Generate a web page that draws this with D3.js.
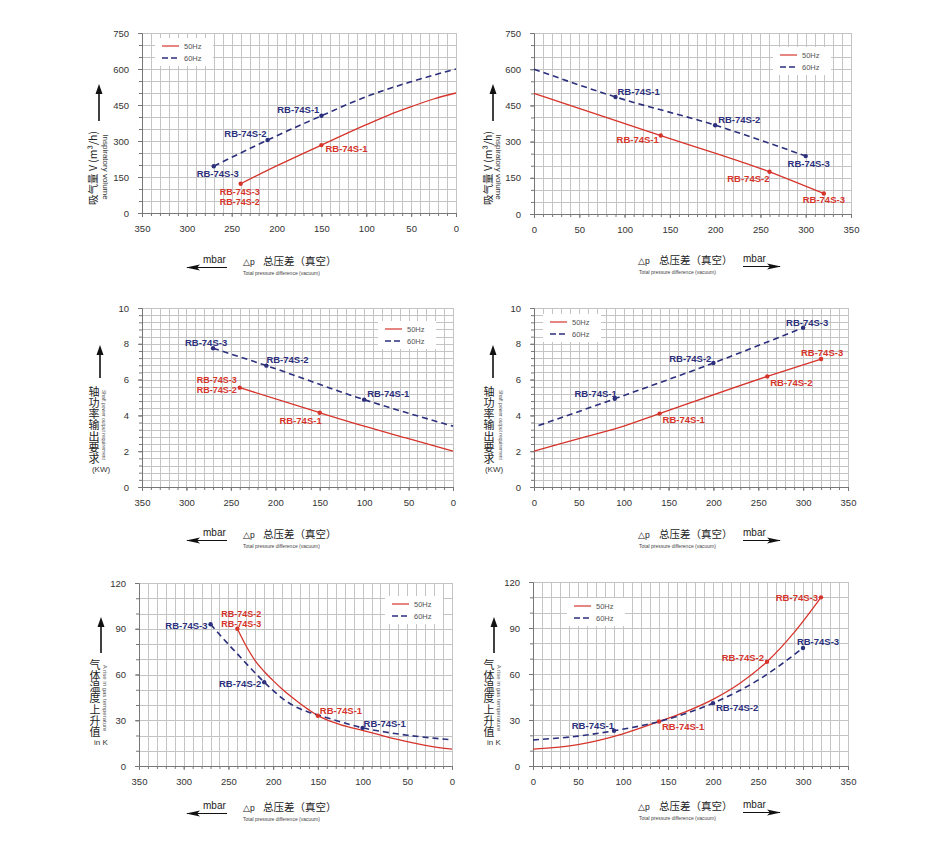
<!DOCTYPE html>
<html><head><meta charset="utf-8">
<script src="https://cdn.jsdelivr.net/npm/d3@7"></script>
<style>body{margin:0;background:#fff}svg{display:block}</style>
</head><body>
<svg id="c" width="928" height="847"></svg>
<script>
// ---------------- DATA ----------------
const xTickVals = [0, 50, 100, 150, 200, 250, 300, 350];
const volTicks = [0, 150, 300, 450, 600, 750];
const powTicks = [0, 2, 4, 6, 8, 10];
const tempTicks = [0, 30, 60, 90, 120];
const seriesNames = ["50Hz", "60Hz"];

// Panel 1: inspiratory volume (pressure axis reversed)
const vol1Red50 = [[240,122],[200,196],[150,283],[100,368],[75,408],[50,443],[25,475],[0,500]];
const vol1Blue60 = [[270,195],[210,304],[150,405],[100,485],[50,547],[0,600]];
const vol1RedModels = [{m:["RB-74S-3","RB-74S-2"],dp:240,v:122},{m:["RB-74S-1"],dp:150,v:283}];
const vol1BlueModels = [{m:["RB-74S-3"],dp:270,v:195},{m:["RB-74S-2"],dp:210,v:304},{m:["RB-74S-1"],dp:150,v:405}];

// Panel 2: inspiratory volume (pressure axis normal)
const vol2Red50 = [[0,500],[140,325],[260,175],[320,85]];
const vol2Blue60 = [[0,600],[90,485],[200,368],[300,240]];
const vol2RedModels = [{m:["RB-74S-1"],dp:140,v:325},{m:["RB-74S-2"],dp:260,v:175},{m:["RB-74S-3"],dp:320,v:85}];
const vol2BlueModels = [{m:["RB-74S-1"],dp:90,v:485},{m:["RB-74S-2"],dp:200,v:368},{m:["RB-74S-3"],dp:300,v:240}];

// Panel 3: shaft power (reversed)
const pow3Red50 = [[240,5.55],[150,4.15],[100,3.4],[50,2.7],[0,2.0]];
const pow3Blue60 = [[270,7.75],[210,6.78],[100,4.88],[0,3.4]];
const pow3RedModels = [{m:["RB-74S-3","RB-74S-2"],dp:240,v:5.55},{m:["RB-74S-1"],dp:150,v:4.15}];
const pow3BlueModels = [{m:["RB-74S-3"],dp:270,v:7.75},{m:["RB-74S-2"],dp:210,v:6.78},{m:["RB-74S-1"],dp:100,v:4.88}];

// Panel 4: shaft power (normal)
const pow4Red50 = [[0,2.0],[50,2.7],[100,3.4],[140,4.1],[260,6.18],[320,7.15]];
const pow4Blue60 = [[5,3.43],[90,4.93],[200,6.93],[300,8.9]];
const pow4RedModels = [{m:["RB-74S-1"],dp:140,v:4.1},{m:["RB-74S-2"],dp:260,v:6.18},{m:["RB-74S-3"],dp:320,v:7.15}];
const pow4BlueModels = [{m:["RB-74S-1"],dp:90,v:4.93},{m:["RB-74S-2"],dp:200,v:6.93},{m:["RB-74S-3"],dp:300,v:8.9}];

// Panel 5: gas temperature rise (reversed)
const tmp5Red50 = [[240,90],[230,78.5],[220,69],[210,62],[200,56],[190,50.5],[180,45.5],[170,41],[160,36.8],[150,33],[140,30.3],[125,27.2],[100,23.3],[75,19.5],[50,16],[25,13],[0,11]];
const tmp5Blue60 = [[270,93],[255,83],[240,73.5],[225,64],[210,55],[200,49.5],[190,44.5],[180,40.5],[170,37.5],[160,35.3],[150,33.5],[125,29],[100,25],[75,22.3],[50,20.2],[25,18.5],[0,17.2]];
const tmp5RedModels = [{m:["RB-74S-2","RB-74S-3"],dp:240,v:90},{m:["RB-74S-1"],dp:150,v:33}];
const tmp5BlueModels = [{m:["RB-74S-3"],dp:270,v:93},{m:["RB-74S-2"],dp:210,v:55},{m:["RB-74S-1"],dp:100,v:25}];

// Panel 6: gas temperature rise (normal)
const tmp6Red50 = [[0,11],[50,14],[100,21],[140,29],[170,35.5],[200,43.5],[230,54],[260,68],[290,87],[320,110]];
const tmp6Blue60 = [[0,17],[50,19.5],[90,23],[140,29],[200,41],[250,56],[300,77]];
const tmp6RedModels = [{m:["RB-74S-1"],dp:140,v:29},{m:["RB-74S-2"],dp:260,v:68},{m:["RB-74S-3"],dp:320,v:110}];
const tmp6BlueModels = [{m:["RB-74S-1"],dp:90,v:23},{m:["RB-74S-2"],dp:200,v:41},{m:["RB-74S-3"],dp:300,v:77}];

// ---------------- STYLE / LAYOUT ----------------
const RED = "#d6342b", BLUE = "#2b2f7c";
const FONT = "'Liberation Sans', Arial, sans-serif";
const CJK = "'Noto Sans CJK SC', 'Noto Sans CJK JP', sans-serif";
const svg = d3.select("#c");

const panels = [
  {l:142,r:456,t:33,b:213,rev:true,yMax:750,ticks:volTicks,grid:50,red:vol1Red50,blue:vol1Blue60,rm:vol1RedModels,bm:vol1BlueModels,
   rl:[{a:"middle",dx:-1,dy:11},{a:"start",dx:4,dy:7}],
   bl:[{a:"middle",dx:4,dy:11},{a:"end",dx:-1,dy:-3},{a:"end",dx:-2,dy:-3}],
   leg:[162,46],ylab:"vol",yx:93,ysx:106,arrowX:99,arrowT:84,arrowB:121,col:"L",by:265},
  {l:534,r:851,t:33,b:214,rev:false,yMax:750,ticks:volTicks,grid:50,red:vol2Red50,blue:vol2Blue60,rm:vol2RedModels,bm:vol2BlueModels,
   rl:[{a:"end",dx:-2,dy:7},{a:"end",dx:0,dy:10},{a:"middle",dx:0,dy:10}],
   bl:[{a:"start",dx:2,dy:-2},{a:"start",dx:3,dy:-2},{a:"middle",dx:3,dy:11}],
   leg:[780,55],ylab:"vol",yx:488,ysx:499,arrowX:493,arrowT:84,arrowB:121,col:"R",by:264},
  {l:142,r:453,t:308,b:487,rev:true,yMax:10,ticks:powTicks,grid:0.4,red:pow3Red50,blue:pow3Blue60,rm:pow3RedModels,bm:pow3BlueModels,
   rl:[{a:"end",dx:-3,dy:-5},{a:"end",dx:2,dy:11}],
   bl:[{a:"middle",dx:-7,dy:-2},{a:"start",dx:0,dy:-3},{a:"start",dx:3,dy:-3}],
   leg:[385,329],ylab:"pow",yx:94,ysx:104,ux:101,arrowX:100,arrowT:345,arrowB:378,col:"L",by:538},
  {l:534,r:848,t:308,b:487,rev:false,yMax:10,ticks:powTicks,grid:0.4,red:pow4Red50,blue:pow4Blue60,rm:pow4RedModels,bm:pow4BlueModels,
   rl:[{a:"start",dx:3,dy:9},{a:"start",dx:3,dy:10},{a:"middle",dx:1,dy:-3}],
   bl:[{a:"end",dx:2,dy:-2},{a:"end",dx:-2,dy:-1},{a:"middle",dx:4,dy:-2}],
   leg:[550,322],ylab:"pow",yx:489,ysx:501,ux:494,arrowX:493,arrowT:345,arrowB:378,col:"R",by:538},
  {l:139,r:452,t:583,b:766,rev:true,yMax:120,ticks:tempTicks,grid:10,red:tmp5Red50,blue:tmp5Blue60,rm:tmp5RedModels,bm:tmp5BlueModels,
   rl:[{a:"middle",dx:4,dy:-12},{a:"start",dx:2,dy:-2}],
   bl:[{a:"end",dx:-3,dy:5},{a:"end",dx:-3,dy:5},{a:"start",dx:1,dy:-1}],
   leg:[392,604],ylab:"tmp",yx:95,ysx:105,ux:101,arrowX:101,arrowT:617,arrowB:653,col:"L",by:811},
  {l:533,r:848,t:582,b:766,rev:false,yMax:120,ticks:tempTicks,grid:10,red:tmp6Red50,blue:tmp6Blue60,rm:tmp6RedModels,bm:tmp6BlueModels,
   rl:[{a:"start",dx:3,dy:8},{a:"end",dx:-3,dy:-1},{a:"end",dx:-3,dy:4}],
   bl:[{a:"end",dx:0,dy:-2},{a:"start",dx:3,dy:8},{a:"middle",dx:15,dy:-3}],
   leg:[574,606],ylab:"tmp",yx:489,ysx:499,ux:494,arrowX:494,arrowT:617,arrowB:653,col:"R",by:810}
];

function vArrow(x, yt, yb){
  svg.append("line").attr("x1",x).attr("x2",x).attr("y1",yb).attr("y2",yt+8)
    .attr("stroke","#111").attr("stroke-width",1.6);
  svg.append("path").attr("d",`M${x},${yt} L${x-3.5},${yt+10} L${x+3.5},${yt+10} Z`).attr("fill","#111");
}
function hArrow(x1, x2, y, left){
  svg.append("line").attr("x1",x1).attr("x2",x2).attr("y1",y).attr("y2",y).attr("stroke","#111").attr("stroke-width",1.2);
  if(left) svg.append("path").attr("d",`M${x1-1},${y} L${x1+13},${y-3} L${x1+10},${y} L${x1+13},${y+3} Z`).attr("fill","#111");
  else svg.append("path").attr("d",`M${x2+1},${y} L${x2-13},${y-3} L${x2-10},${y} L${x2-13},${y+3} Z`).attr("fill","#111");
}

panels.forEach(p=>{
  const g = svg.append("g");
  const x = d3.scaleLinear().domain(p.rev?[350,0]:[0,350]).range([p.l,p.r]);
  const y = d3.scaleLinear().domain([0,p.yMax]).range([p.b,p.t]);
  // grid
  const gx = d3.range(0,351,10);
  const gy = d3.range(0,p.yMax+p.grid/2,p.grid);
  g.append("g").selectAll("line").data(gx).join("line")
    .attr("x1",d=>Math.round(x(d))+.5).attr("x2",d=>Math.round(x(d))+.5)
    .attr("y1",p.t).attr("y2",p.b).attr("stroke","#c4c4c4").attr("stroke-width",1);
  g.append("g").selectAll("line").data(gy).join("line")
    .attr("y1",d=>Math.round(y(d))+.5).attr("y2",d=>Math.round(y(d))+.5)
    .attr("x1",p.l).attr("x2",p.r).attr("stroke","#c4c4c4").attr("stroke-width",1);
  // axes
  const axB = g.append("g").attr("transform",`translate(0,${p.b})`)
    .call(d3.axisBottom(x).tickValues(xTickVals).tickSize(4).tickSizeOuter(0).tickPadding(8));
  const axBm = g.append("g").attr("transform",`translate(0,${p.b})`)
    .call(d3.axisBottom(x).tickValues(gx).tickSize(3).tickSizeOuter(0).tickFormat(""));
  const axL = g.append("g").attr("transform",`translate(${p.l},0)`)
    .call(d3.axisLeft(y).tickValues(p.ticks).tickSize(4).tickSizeOuter(0).tickPadding(9));
  const axLm = g.append("g").attr("transform",`translate(${p.l},0)`)
    .call(d3.axisLeft(y).tickValues(gy).tickSize(3).tickSizeOuter(0).tickFormat(""));
  [axB,axBm,axL,axLm].forEach(a=>{
    a.select(".domain").attr("stroke","#777");
    a.selectAll(".tick line").attr("stroke","#777");
    a.selectAll(".tick text").attr("fill","#333").style("font-family",FONT).style("font-size","9.5px");
  });
  // legend
  const [lx,ly] = p.leg;
  g.append("rect").attr("x",lx-7).attr("y",ly-8).attr("width",58).attr("height",28).attr("fill","#fff");
  g.append("line").attr("x1",lx).attr("x2",lx+17).attr("y1",ly).attr("y2",ly).attr("stroke",RED).attr("stroke-width",1.2);
  g.append("line").attr("x1",lx).attr("x2",lx+17).attr("y1",ly+12).attr("y2",ly+12).attr("stroke",BLUE).attr("stroke-width",1.6).attr("stroke-dasharray","6,3");
  seriesNames.forEach((n,i)=>g.append("text").attr("x",lx+22).attr("y",ly+i*12+2.5).text(n)
    .attr("fill","#555").style("font-family",FONT).style("font-size","7.5px"));
  // curves
  const line = d3.line().x(d=>x(d[0])).y(d=>y(d[1])).curve(d3.curveMonotoneX);
  const sorted = arr => arr.slice().sort((a,b)=>x(a[0])-x(b[0]));
  g.append("path").attr("d",line(sorted(p.red))).attr("fill","none").attr("stroke",RED).attr("stroke-width",1.3);
  g.append("path").attr("d",line(sorted(p.blue))).attr("fill","none").attr("stroke",BLUE).attr("stroke-width",1.6).attr("stroke-dasharray","6,4");
  // markers + labels
  [[p.rm,p.rl,RED],[p.bm,p.bl,BLUE]].forEach(([ms,ls,c])=>{
    ms.forEach((m,i)=>{
      const px = x(m.dp), py = y(m.v), L = ls[i];
      g.append("circle").attr("cx",px).attr("cy",py).attr("r",2.2).attr("fill",c);
      const multi = m.m.length>1;
      const t = g.append("text").attr("text-anchor",L.a).attr("fill",c)
        .style("font-family",FONT).style("font-size",multi?"9px":"9.5px").style("font-weight","bold");
      m.m.forEach((s,j)=>t.append("tspan").attr("x",px+L.dx).attr("y",py+L.dy+j*10.5).text(s));
    });
  });
  // y labels
  vArrow(p.arrowX, p.arrowT, p.arrowB);
  if(p.ylab==="vol"){
    svg.append("text").attr("transform",`translate(${p.yx},168) rotate(-90)`).attr("text-anchor","middle").attr("dy","0.35em")
      .attr("fill","#222").style("font-family",CJK).style("font-size","10.5px").text("吸气量 V (m³/h)");
    svg.append("text").attr("transform",`translate(${p.ysx},167) rotate(90)`).attr("text-anchor","middle").attr("dy","0.35em")
      .attr("fill","#333").style("font-family",FONT).style("font-size","8px").text("Inspiratory volume");
  } else {
    const chars = p.ylab==="pow" ? "轴功率输出要求" : "气体温度上升值";
    const y0 = p.ylab==="pow" ? 392 : 665;
    svg.append("text").attr("x",p.yx).attr("y",y0-5.5)
      .style("writing-mode","vertical-rl").style("text-orientation","upright").style("letter-spacing","0.1px")
      .attr("fill","#222").style("font-family",CJK).style("font-size","11px").text(chars);
    svg.append("text").attr("x",p.ux).attr("y",y0+77).attr("dy","0.35em").attr("text-anchor","middle")
      .attr("fill","#333").style("font-family",FONT).style("font-size","8px").text(p.ylab==="pow"?"(KW)":"in K");
    svg.append("text").attr("transform",`translate(${p.ysx},${y0+33}) rotate(90)`).attr("text-anchor","middle").attr("dy","0.35em")
      .attr("fill","#555").style("font-family",FONT).style("font-size", p.ylab==="pow"?"5px":"6px")
      .text(p.ylab==="pow"?"Shaft power output requirement":"A rise in gas temperature");
  }
  // x labels
  const by = p.by;
  const L = p.col==="L";
  const xs = L ? {dp:243,cn:263,mb:203,a1:187,a2:227,sm:243} : {dp:638,cn:659,mb:743,a1:743,a2:780,sm:639};
  svg.append("text").attr("x",xs.dp).attr("y",by-0.5).attr("fill","#222").style("font-family",FONT).style("font-size","8.5px").text("△p");
  svg.append("text").attr("x",xs.cn).attr("y",by).attr("fill","#222").style("font-family",CJK).style("font-size","10.5px").text("总压差（真空）");
  svg.append("text").attr("x",xs.mb).attr("y",by-2).attr("fill","#222").style("font-family",FONT).style("font-size","10px").text("mbar");
  hArrow(xs.a1, xs.a2, by+2.5, L);
  svg.append("text").attr("x",xs.sm).attr("y",by+9.5).attr("fill","#444").style("font-family",FONT).style("font-size","5px").text("Total pressure difference (vacuum)");
});
</script>
</body></html>
